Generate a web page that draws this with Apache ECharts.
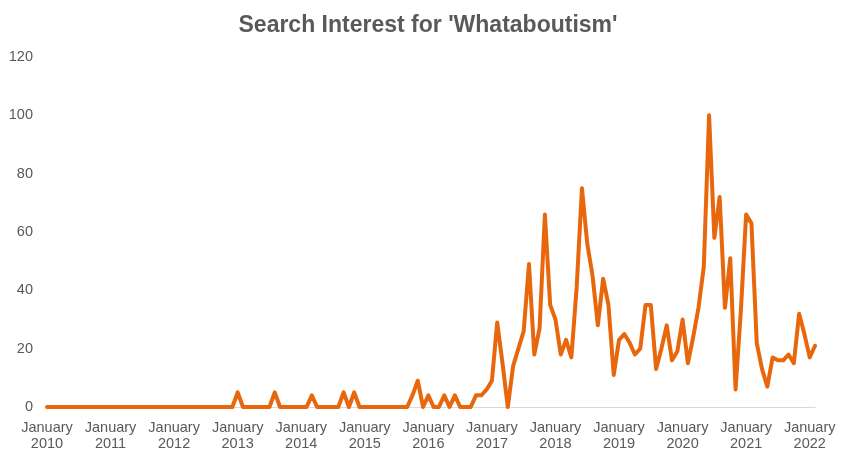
<!DOCTYPE html>
<html>
<head>
<meta charset="utf-8">
<script src="https://cdn.jsdelivr.net/npm/echarts@6/dist/echarts.min.js"></script>
<style>
html,body{margin:0;padding:0;background:#fff;}
#chart{width:856px;height:460px;}
</style>
</head>
<body>
<div id="chart"></div>
<script>
// Chart title
var titleText = "Search Interest for 'Whataboutism'";

// Years covered (monthly data, January 2010 - February 2022)
var years = [2010, 2011, 2012, 2013, 2014, 2015, 2016, 2017, 2018, 2019, 2020, 2021, 2022];
var monthNames = ['January','February','March','April','May','June','July','August','September','October','November','December'];

// Monthly search interest values, one array per year
var y2010 = [0,0,0,0,0,0,0,0,0,0,0,0];
var y2011 = [0,0,0,0,0,0,0,0,0,0,0,0];
var y2012 = [0,0,0,0,0,0,0,0,0,0,0,0];
var y2013 = [5,0,0,0,0,0,0,5,0,0,0,0];
var y2014 = [0,0,4,0,0,0,0,0,5,0,5,0];
var y2015 = [0,0,0,0,0,0,0,0,0,4,9,0];
var y2016 = [4,0,0,4,0,4,0,0,0,4,4,6];
var y2017 = [9,29,15,0,14,20,26,49,18,27,66,35];
var y2018 = [30,18,23,17,41,75,56,45,28,44,35,11];
var y2019 = [23,25,22,18,20,35,35,13,20,28,16,19];
var y2020 = [30,15,24,34,48,100,58,72,34,51,6,33];
var y2021 = [66,63,22,13,7,17,16,16,18,15,32,25];
var y2022 = [17,21];

// Y axis ticks
var yTicks = [0, 20, 40, 60, 80, 100, 120];

var yearly = [y2010,y2011,y2012,y2013,y2014,y2015,y2016,y2017,y2018,y2019,y2020,y2021,y2022];
var categories = [];
var values = [];
yearly.forEach(function(arr, yi){
  arr.forEach(function(v, mi){
    categories.push(monthNames[mi] + '\n' + years[yi]);
    values.push(v);
  });
});

var chart = echarts.init(document.getElementById('chart'));
chart.setOption({
  animation: false,
  backgroundColor: '#ffffff',
  title: {
    text: titleText,
    left: 'center',
    top: 9,
    textStyle: {
      fontFamily: 'Liberation Sans, Arial, sans-serif',
      fontSize: 23,
      fontWeight: 'bold',
      color: '#595959'
    }
  },
  grid: { left: 47, right: 41, top: 57, bottom: 53 },
  xAxis: {
    type: 'category',
    data: categories,
    boundaryGap: false,
    axisLine: { show: true, lineStyle: { color: '#D9D9D9', width: 1 } },
    axisTick: { show: false },
    splitLine: { show: false },
    axisLabel: {
      interval: 11,
      margin: 13,
      fontFamily: 'Liberation Sans, Arial, sans-serif',
      fontSize: 14.5,
      lineHeight: 16,
      color: '#595959'
    }
  },
  yAxis: {
    type: 'value',
    min: yTicks[0],
    max: yTicks[yTicks.length - 1],
    interval: 20,
    axisLine: { show: false },
    axisTick: { show: false },
    splitLine: { show: false },
    axisLabel: {
      margin: 14,
      fontFamily: 'Liberation Sans, Arial, sans-serif',
      fontSize: 14.5,
      color: '#595959'
    }
  },
  series: [{
    type: 'line',
    data: values,
    symbol: 'none',
    lineStyle: { color: '#E8670C', width: 4, join: 'round', cap: 'round' },
    itemStyle: { color: '#E8670C' }
  }]
});
</script>
</body>
</html>
